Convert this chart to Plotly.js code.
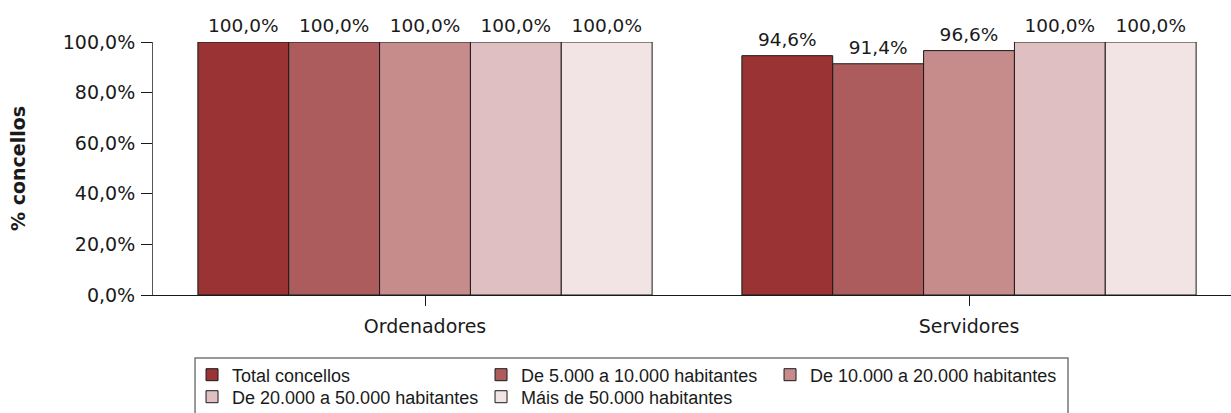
<!DOCTYPE html>
<html>
<head>
<meta charset="utf-8">
<script src="https://cdn.plot.ly/plotly-3.0.1.min.js"></script>
<style>html,body{margin:0;padding:0;background:#fff;}#chart{width:1231px;height:413px;}</style>
</head>
<body>
<div id="chart"></div>
<script>
const categories = ["Ordenadores", "Servidores"];
const seriesNames = ["Total concellos", "De 5.000 a 10.000 habitantes", "De 10.000 a 20.000 habitantes", "De 20.000 a 50.000 habitantes", "Máis de 50.000 habitantes"];
const totalConcellos = [100.0, 94.6];
const de5000a10000 = [100.0, 91.4];
const de10000a20000 = [100.0, 96.6];
const de20000a50000 = [100.0, 100.0];
const mais50000 = [100.0, 100.0];
const seriesValues = [totalConcellos, de5000a10000, de10000a20000, de20000a50000, mais50000];
const colors = ["#993334", "#AD5C5D", "#C58C8B", "#DFBFC1", "#F2E4E4"];
const legendRow = ["legend", "legend", "legend", "legend2", "legend2"];

const barTraces = seriesValues.map((vals, i) => ({
  type: "bar",
  name: seriesNames[i],
  legend: legendRow[i],
  x: categories,
  y: vals,
  marker: {color: colors[i], line: {color: "#1a1a1a", width: 1}},
  hoverinfo: "none"
}));

const labelTraces = seriesValues.map((vals, i) => ({
  type: "scatter",
  mode: "markers+text",
  x: categories,
  y: vals,
  texttemplate: "%{y:.1f}%",
  textposition: "top center",
  textfont: {family: "DejaVu Sans", size: 18.5, color: "#1a1a1a"},
  marker: {size: 7, opacity: 0, color: "#fff"},
  cliponaxis: false,
  showlegend: false,
  hoverinfo: "none"
}));

const legendFont = {family: "Liberation Sans", size: 18, color: "#1a1a1a"};
const legendCommon = {
  orientation: "h",
  x: 0.0362, xanchor: "left",
  yanchor: "middle",
  bgcolor: "rgba(0,0,0,0)", borderwidth: 0,
  font: legendFont,
  entrywidth: 244, entrywidthmode: "pixels",
  traceorder: "normal",
  itemclick: false
};

const layout = {
  width: 1231, height: 413,
  margin: {l: 153, r: 0, t: 42, b: 118, autoexpand: false},
  paper_bgcolor: "#fff", plot_bgcolor: "#fff",
  separators: ",.",
  barmode: "group",
  bargap: 0.165,
  bargroupgap: 0,
  scattermode: "group",
  scattergap: 0.165,
  showlegend: true,
  font: {family: "DejaVu Sans", size: 19, color: "#1a1a1a"},
  xaxis: {
    range: [-0.5, 1.4816],
    showline: true, linecolor: "#1a1a1a", linewidth: 1,
    ticks: "outside", ticklen: 10, tickcolor: "#1a1a1a",
    ticklabelstandoff: 4,
    showgrid: false, zeroline: false,
    tickfont: {family: "DejaVu Sans", size: 19, color: "#1a1a1a"},
    fixedrange: true
  },
  yaxis: {
    range: [0, 100],
    dtick: 20, tickformat: ".1f", ticksuffix: "%",
    showline: true, linecolor: "#555", linewidth: 1,
    ticks: "outside", ticklen: 11, tickcolor: "#1a1a1a",
    ticklabelstandoff: 2,
    showgrid: false, zeroline: false,
    tickfont: {family: "DejaVu Sans", size: 19, color: "#1a1a1a"},
    title: {text: "% concellos", font: {family: "DejaVu Sans", size: 19, weight: "bold", color: "#1a1a1a"}, standoff: 32},
    fixedrange: true
  },
  legend: Object.assign({}, legendCommon, {y: -0.3162}),
  legend2: Object.assign({}, legendCommon, {y: -0.4032}),
  shapes: [{
    type: "rect", xref: "paper", yref: "paper",
    x0: 0.039, x1: 0.8488, y0: -0.249, y1: -0.6,
    line: {color: "#777", width: 1.5}, fillcolor: "#fff", layer: "below"
  }]
};

Plotly.newPlot("chart", barTraces.concat(labelTraces), layout, {displayModeBar: false, staticPlot: true});
</script>
</body>
</html>
